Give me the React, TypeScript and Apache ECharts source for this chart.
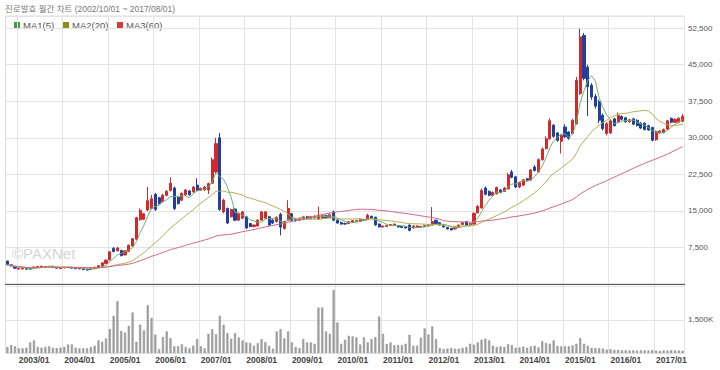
import React, { useEffect, useRef } from 'react';
import * as echarts from 'echarts';

const TITLE = '진로발효 월간 차트 (2002/10/01 ~ 2017/08/01)';

// month categories 2002/10 .. 2017/08
const months: string[] = [];
for (let k = 0; k < 179; k++) {
  const m = 9 + k;
  const y = 2002 + Math.floor(m / 12);
  const mm = (m % 12) + 1;
  months.push(`${y}/${String(mm).padStart(2, '0')}`);
}

const open = [
  4700, 3950, 3600,
  3050, 3100, 3200, 3150, 3250, 3450, 3500, 3450, 3500, 3650, 3400, 3150,
  3300, 3350, 3450, 3300, 3100, 3150, 3000, 2950, 3150, 3400, 3650, 4200,
  4950, 7300, 6800, 6900, 5950, 6650, 7800, 9200, 13200, 13300, 15200, 15500,
  18400, 17700, 16900, 18200, 19200, 19700, 17800, 17200, 18300, 19100, 18900, 20300,
  19300, 19300, 19300, 20700, 23000, 30000, 14800, 15500, 13800, 15400, 13100, 13500,
  13800, 12400, 11800, 11900, 13100, 13500, 13800, 13100, 12800, 14300, 11400, 13100,
  14400, 13300, 13100, 13300, 13800, 13400, 13600, 13400, 13500, 14000, 13600, 14800,
  13100, 12600, 12400, 12400, 12700, 12900, 12900, 13200, 13200, 13900, 13700, 12300,
  11700, 11800, 12000, 12100, 11900, 11800, 11700, 12100, 11500, 11700, 11600, 11800,
  11900, 12100, 13100, 12600, 12100, 11600, 11400, 11300, 11600, 12200, 12800, 12100,
  12300, 14600, 15600, 19700, 19000, 18200, 18500, 19300, 19000, 19500, 23000, 22000,
  19900, 20300, 21600, 21300, 24000, 23000, 25500, 27800, 29800, 32600, 31000, 29300,
  32200, 31200, 30900, 32900, 39100, 51000, 44500, 40800, 38500, 37400, 34600, 30900,
  31000, 33900, 33300, 34400, 34100, 33300, 33900, 33600, 33000, 33000, 32500, 32100,
  29600, 31000, 31100, 31800, 34000, 33200, 33200, 33400,
];

const close = [
  3950, 3700, 3250,
  3150, 3250, 3050, 3050, 3500, 3600, 3650, 3600, 3650, 3400, 3250, 3300,
  3450, 3500, 3250, 3150, 3250, 2950, 2850, 3150, 3450, 3750, 4350, 4900,
  6600, 6650, 7400, 5800, 6800, 7950, 9300, 13600, 15100, 14400, 17100, 17500,
  15300, 16500, 18200, 19000, 20700, 15500, 16500, 18600, 19300, 18300, 19900, 19300,
  19600, 19900, 20600, 25500, 28800, 15300, 17200, 12500, 15300, 13100, 14500, 14800,
  11500, 11800, 12100, 13100, 14800, 14800, 12100, 12500, 13700, 11700, 12800, 15500,
  13100, 13000, 13400, 13800, 13500, 13800, 13900, 14100, 14000, 13600, 14200, 13100,
  12500, 12300, 12300, 12800, 13000, 13000, 13200, 13100, 14100, 13500, 12100, 11700,
  11900, 12000, 12200, 12300, 11700, 11600, 11500, 11000, 11900, 11900, 11800, 12000,
  12200, 12800, 12400, 12100, 11700, 11300, 11100, 11700, 12100, 12600, 12100, 12400,
  14500, 15900, 19200, 18400, 18200, 18800, 19800, 18800, 19700, 22400, 21900, 19900,
  20800, 21400, 21300, 23400, 23300, 25500, 27700, 29800, 33500, 30300, 29500, 30500,
  30200, 29900, 33600, 41800, 50700, 42200, 40500, 38400, 36500, 33600, 31900, 32900,
  33500, 32500, 34600, 33800, 33300, 33700, 32800, 32500, 32000, 31700, 31600, 29500,
  31300, 31400, 31700, 33500, 33200, 33800, 34000, 34400,
];

const low = [
  3850, 3600, 3150,
  2950, 3000, 2950, 2950, 3200, 3350, 3450, 3400, 3400, 3350, 3150, 3100,
  3250, 3300, 3200, 3100, 3050, 2900, 2800, 2900, 3100, 3350, 3600, 4150,
  4900, 6500, 6700, 5700, 5900, 6600, 7700, 9100, 13000, 13100, 14900, 15300,
  15000, 16300, 16700, 18000, 19000, 15200, 16300, 17000, 18100, 18100, 18700, 19100,
  19100, 19100, 18500, 20500, 22500, 15000, 14500, 12300, 13600, 12900, 12900, 13300,
  11300, 11600, 11600, 11800, 13000, 13400, 12000, 12300, 12600, 10000, 11200, 13000,
  12900, 12800, 13000, 13200, 13300, 13300, 13400, 13300, 13400, 13500, 13500, 12900,
  12400, 12200, 12200, 12300, 12600, 12800, 12800, 13000, 13100, 13400, 12000, 11600,
  11600, 11700, 11900, 12000, 11600, 11500, 11400, 10800, 11400, 11600, 11500, 11700,
  11800, 12000, 12300, 12000, 11600, 11200, 11000, 11200, 11500, 12100, 12000, 12000,
  12200, 14500, 15500, 18200, 18000, 18000, 18400, 18600, 18900, 19400, 21700, 19700,
  19700, 20100, 21100, 21200, 23100, 22800, 25300, 27600, 29600, 30000, 29200, 26800,
  30000, 29600, 30700, 32700, 38800, 41800, 34500, 37800, 36000, 33000, 31500, 30500,
  30800, 32300, 33100, 33600, 33100, 33100, 32600, 32300, 31800, 31500, 31400, 29300,
  29400, 30800, 30900, 31600, 33000, 33000, 33000, 33200,
];

const high = [
  4800, 4050, 3650,
  3250, 3300, 3250, 3250, 3600, 3700, 3750, 3700, 3700, 3700, 3450, 3350,
  3500, 3550, 3500, 3350, 3300, 3200, 3050, 3200, 3500, 3800, 4400, 5000,
  6700, 7600, 7600, 7000, 6900, 8100, 9400, 13800, 15500, 14600, 19900, 18300,
  18700, 17900, 18500, 19300, 21900, 20000, 18000, 18800, 19500, 19300, 20100, 21700,
  19800, 20100, 20800, 26000, 30000, 31000, 17500, 15700, 15500, 15600, 14700, 15000,
  14000, 12500, 12200, 13300, 15000, 15000, 14000, 13300, 13900, 14600, 13000, 17200,
  14600, 13500, 13600, 14000, 14000, 14000, 14100, 15900, 14200, 14200, 14500, 15100,
  13300, 12800, 12600, 12900, 13100, 13200, 13300, 13300, 14400, 14000, 13800, 12400,
  12000, 12100, 12300, 12400, 12000, 11900, 11800, 12200, 12000, 12000, 11900, 12100,
  12300, 15800, 13200, 12700, 12200, 11700, 11500, 11800, 12200, 12700, 12900, 12500,
  14700, 16200, 19600, 20000, 19200, 19000, 20000, 19500, 19900, 22800, 23400, 22200,
  21000, 21600, 21800, 23600, 24400, 25800, 28000, 30300, 34000, 32800, 31200, 30800,
  32800, 31400, 33900, 42500, 52400, 51500, 45000, 41200, 39000, 37800, 35000, 33200,
  33800, 34100, 35200, 34600, 34300, 33900, 34100, 33800, 33200, 33200, 32700, 32300,
  31500, 31600, 31900, 33700, 34200, 34000, 34200, 34900,
];

// volume in thousands
const volume = [
  270, 360, 300,
  210, 210, 240, 480, 570, 270, 240, 270, 300, 240, 225, 240,
  270, 390, 390, 240, 210, 210, 210, 270, 330, 570, 510, 660,
  1080, 1680, 2350, 1000, 930, 1230, 1830, 510, 1280, 1020, 2160, 1590,
  830, 170, 720, 980, 675, 300, 300, 400, 270, 210, 330, 630,
  300, 210, 870, 1080, 850, 1680, 1280, 900, 645, 900, 700, 570,
  480, 450, 330, 450, 630, 495, 330, 195, 975, 1080, 660, 975,
  480, 270, 225, 630, 480, 480, 420, 2055, 2055, 975, 870, 2850,
  1380, 420, 600, 780, 750, 705, 390, 705, 480, 630, 720, 1650,
  870, 405, 480, 360, 360, 360, 420, 825, 330, 330, 690, 1110,
  840, 1200, 630, 225, 180, 195, 225, 195, 195, 225, 270, 420,
  375, 480, 600, 650, 570, 330, 270, 300, 270, 400, 360, 240,
  250, 290, 240, 300, 330, 260, 540, 450, 420, 570, 320, 300,
  310, 300, 340, 420, 680, 420, 330, 230, 220, 210, 200, 150,
  170, 140, 150, 120, 130, 110, 120, 110, 130, 120, 110, 140,
  110, 100, 120, 110, 130, 120, 110, 100,
];

const maNames = ['MA1(5)', 'MA2(20)', 'MA3(60)'];
const maPeriods = [5, 20, 60];
const maLineColors = ['#6fb26f', '#b3ae55', '#cc6a80'];
const maLegendColors = ['#429a42', '#8c8c1c', '#d83a3a'];

function calcMA(n: number): number[] {
  return close.map((_, i) => {
    const s = Math.max(0, i - n + 1);
    let sum = 0;
    for (let k = s; k <= i; k++) sum += close[k];
    return Math.round(sum / (i - s + 1));
  });
}

const FONT = "'Liberation Sans', 'Noto Sans CJK KR', sans-serif";
const isJan = (_i: number, v: string) => String(v).endsWith('/01');
const gridLine = { lineStyle: { color: '#e4e4e4', width: 1 } };

export default function App() {
  const ref = useRef<HTMLDivElement>(null);
  useEffect(() => {
    const chart = echarts.init(ref.current!, undefined, { renderer: 'svg' });
    const candles = open.map((o, i) => [o, close[i], low[i], high[i]]);
    const legendX = [14, 63, 117];
    const option: any = {
      animation: false,
      backgroundColor: '#ffffff',
      textStyle: { fontFamily: FONT },
      grid: [
        { left: 5.5, right: 35.5, top: 16, height: 268, show: true, borderColor: '#dcdcdc', borderWidth: 1 },
        { left: 5.5, right: 35.5, top: 284, height: 69, show: true, borderColor: '#dcdcdc', borderWidth: 1 },
      ],
      xAxis: [
        {
          type: 'category', gridIndex: 0, data: months, boundaryGap: true,
          axisLine: { show: true, onZero: false, lineStyle: { color: '#555', width: 1 } },
          axisTick: { show: false }, axisLabel: { show: false },
          splitLine: { show: true, interval: isJan, ...gridLine },
        },
        {
          type: 'category', gridIndex: 1, data: months, boundaryGap: true,
          axisLine: { show: false }, axisTick: { show: false },
          axisLabel: {
            interval: isJan, align: 'left', margin: 3, fontSize: 8.5, fontWeight: 'bold',
            color: '#444', fontFamily: FONT,
          },
          splitLine: { show: true, interval: isJan, ...gridLine },
        },
      ],
      yAxis: [
        {
          type: 'value', gridIndex: 0, position: 'right', min: 0, max: 55000, interval: 7500,
          axisLine: { show: false }, axisTick: { show: false },
          axisLabel: {
            margin: 3.5, fontSize: 8, color: '#555', fontFamily: FONT, showMaxLabel: false,
            formatter: (v: number) => (v <= 0 || v > 52500 ? '' : v.toLocaleString('en-US')),
          },
          splitLine: { show: true, ...gridLine },
        },
        {
          type: 'value', gridIndex: 1, position: 'right', min: 0, max: 3120, interval: 1500,
          axisLine: { show: false }, axisTick: { show: false },
          axisLabel: {
            margin: 3.5, fontSize: 8, color: '#555', fontFamily: FONT, showMaxLabel: false,
            formatter: (v: number) => (v === 1500 ? '1,500K' : ''),
          },
          splitLine: { show: true, ...gridLine },
        },
      ],
      graphic: [
        { type: 'text', x: 5, y: 9, style: { text: TITLE, fontSize: 8.5, fill: '#777', fontFamily: FONT, verticalAlign: 'middle' } },
        ...maNames.flatMap((name, k) => [
          { type: 'rect', x: legendX[k], y: 22, shape: { x: 0, y: 0, width: 6, height: 6 }, style: { fill: maLegendColors[k], stroke: 'none' } },
          { type: 'text', x: legendX[k] + 9, y: 25, style: { text: name, fontSize: 9.5, fill: '#555', fontFamily: FONT, verticalAlign: 'middle' } },
        ]),
        { type: 'text', x: 12, y: 253, z: -1, style: { text: '©PAXNet', fontSize: 15, fill: '#d6d6d6', fontFamily: FONT, verticalAlign: 'middle' } },
      ],
      series: [
        {
          type: 'candlestick', name: 'price', xAxisIndex: 0, yAxisIndex: 0, data: candles,
          barWidth: '68%',
          itemStyle: { color: '#d02a2a', color0: '#213f9e', borderColor: '#d02a2a', borderColor0: '#213f9e', borderWidth: 1 },
        },
        ...maNames.map((name, k) => ({
          type: 'line', name, xAxisIndex: 0, yAxisIndex: 0, data: calcMA(maPeriods[k]),
          symbol: 'none', showSymbol: false, z: 3,
          lineStyle: { color: maLineColors[k], width: 1 },
          itemStyle: { color: maLineColors[k] },
        })),
        {
          type: 'bar', name: 'volume', xAxisIndex: 1, yAxisIndex: 1, data: volume,
          barWidth: '55%', itemStyle: { color: '#a2a2a2', borderColor: '#8a8a8a', borderWidth: 0.5 },
        },
      ],
    };
    chart.setOption(option);
    return () => chart.dispose();
  }, []);
  return <div ref={ref} style={{ position: 'absolute', left: 0, top: 0, width: 720, height: 370 }} />;
}
